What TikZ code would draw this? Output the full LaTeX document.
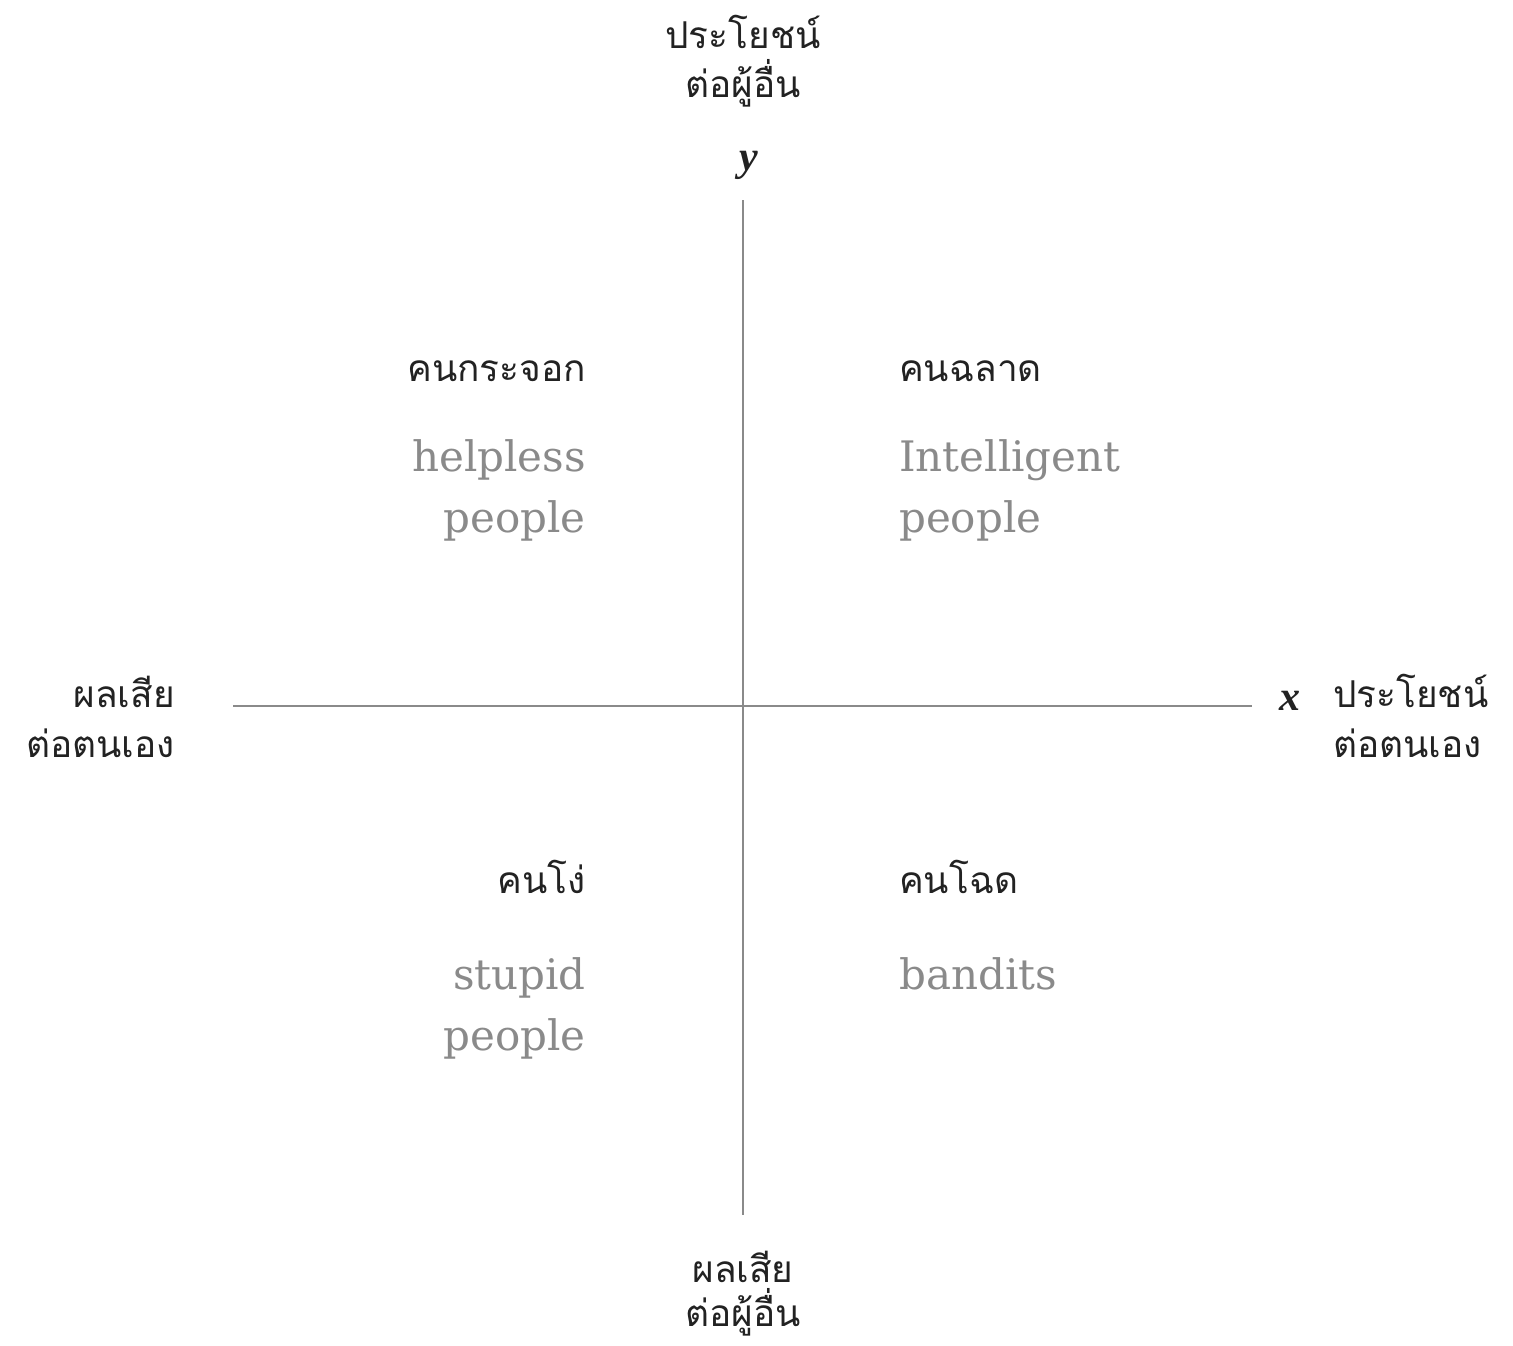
\documentclass[tikz,border=0pt]{standalone}
\usepackage{fontspec}
\setmainfont{DejaVu Serif}
\newfontfamily\thaifont[Script=Thai]{Loma}
\newfontfamily\axfont{Liberation Serif}
\definecolor{axisgray}{HTML}{8A8A8A}
\definecolor{engray}{HTML}{8A8A8A}
\definecolor{thaiink}{HTML}{222222}
\begin{document}
\begin{tikzpicture}[x=1pt,y=-1pt,
  th/.style={font=\thaifont\fontsize{37}{42}\selectfont, text=thaiink, inner sep=0pt},
  en/.style={font=\fontsize{42}{48}\selectfont, text=engray, inner sep=0pt},
  axl/.style={font=\axfont\fontsize{42}{46}\selectfont\bfseries\itshape, text=thaiink, inner sep=0pt},
  axis/.style={draw=axisgray, line width=2pt}]
\useasboundingbox[fill=white] (0,0) rectangle (1513,1345);
% axes
\coordinate (ytop) at (743,200);
\coordinate (ybot) at (743,1215);
\coordinate (xleft) at (233,706);
\coordinate (xright) at (1252,706);
\draw[axis] (ytop) -- (ybot);
\draw[axis] (xleft) -- (xright);
\node[axl, anchor=base] (ylab) at (749,170) {y};
\node[axl, anchor=base] (xlab) at (1290,710) {x};
% top label
\node[th, anchor=base] (top1) at (743,48) {ประโยชน์};
\node[th, anchor=base] (top2) at (743,97) {ต่อผู้อื่น};
% bottom label
\node[th, anchor=base] (bot1) at (743,1282) {ผลเสีย};
\node[th, anchor=base] (bot2) at (743,1326) {ต่อผู้อื่น};
% left label
\node[th, anchor=base east] (left1) at (175,707) {ผลเสีย};
\node[th, anchor=base east] (left2) at (175,757) {ต่อตนเอง};
% right label
\node[th, anchor=base west] (right1) at (1333,707) {ประโยชน์};
\node[th, anchor=base west] (right2) at (1333,757) {ต่อตนเอง};
% top-left quadrant
\node[th, anchor=base east] (tlth) at (586,381) {คนกระจอก};
\node[en, anchor=base east] (tlen1) at (586,471) {helpless};
\node[en, anchor=base east] (tlen2) at (586,532) {people};
% top-right quadrant
\node[th, anchor=base west] (trth) at (899,381) {คนฉลาด};
\node[en, anchor=base west] (tren1) at (899,471) {Intelligent};
\node[en, anchor=base west] (tren2) at (899,532) {people};
% bottom-left quadrant
\node[th, anchor=base east] (blth) at (586,893) {คนโง่};
\node[en, anchor=base east] (blen1) at (586,989) {stupid};
\node[en, anchor=base east] (blen2) at (586,1050) {people};
% bottom-right quadrant
\node[th, anchor=base west] (brth) at (899,893) {คนโฉด};
\node[en, anchor=base west] (bren1) at (899,989) {bandits};
\end{tikzpicture}
\end{document}
